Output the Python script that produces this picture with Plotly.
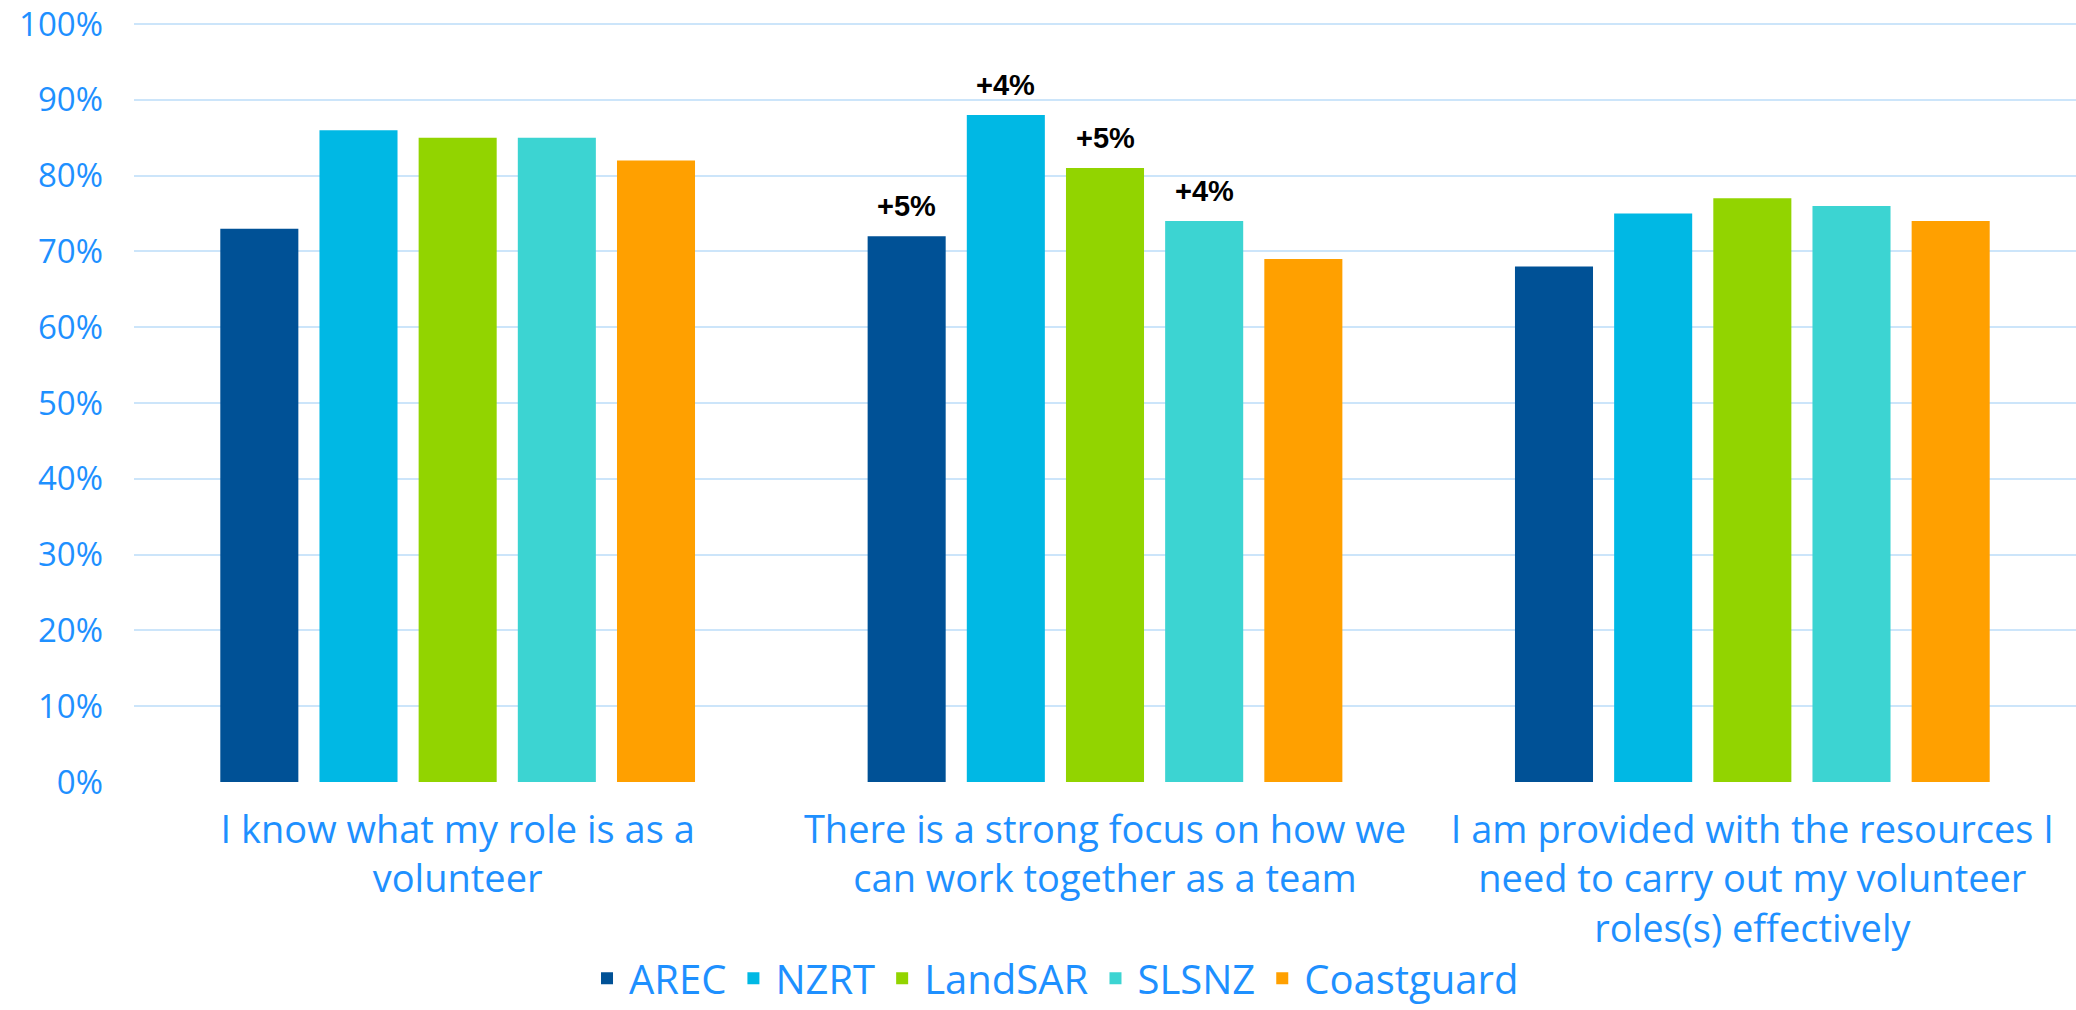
import plotly.graph_objects as go

# Survey statements (x categories) and agreement share per organisation (%)
categories = [
    "I know what my role is as a<br>volunteer",
    "There is a strong focus on how we<br>can work together as a team",
    "I am provided with the resources I<br>need to carry out my volunteer<br>roles(s) effectively",
]
organisations = ["AREC", "NZRT", "LandSAR", "SLSNZ", "Coastguard"]

arec = [73, 72, 68]
nzrt = [86, 88, 75]
landsar = [85, 81, 77]
slsnz = [85, 74, 76]
coastguard = [82, 69, 74]

# Change labels shown above selected bars
arec_change = ["", "+5%", ""]
nzrt_change = ["", "+4%", ""]
landsar_change = ["", "+5%", ""]
slsnz_change = ["", "+4%", ""]
coastguard_change = ["", "", ""]

y_ticks = list(range(0, 101, 10))
y_tick_labels = [f"{v}%" for v in y_ticks]

colors = ["#005196", "#00B8E4", "#92D400", "#3CD4D2", "#FFA000"]
series = [arec, nzrt, landsar, slsnz, coastguard]
changes = [arec_change, nzrt_change, landsar_change, slsnz_change, coastguard_change]

text_blue = "#1E90FF"
label_font = "Open Sans, sans-serif"

# Figure geometry and bar grouping
fig_w, fig_h = 2076, 1010
m_l, m_r, m_t, m_b = 134, 0, 21, 228
bargap, bargroupgap = 0.234, 0.213

fig = go.Figure()
for name, vals, col in zip(organisations, series, colors):
    fig.add_trace(go.Bar(
        name=name,
        x=categories,
        y=vals,
        marker=dict(color=col, line=dict(width=0)),
    ))

# Change labels above the bars: horizontal offset of each bar within its group
plot_w = fig_w - m_l - m_r
slot_px = plot_w / len(categories) * (1 - bargap) / len(organisations)
annotations = []
for i, (vals, txt) in enumerate(zip(series, changes)):
    offset = (i - (len(organisations) - 1) / 2) * slot_px
    for cat, v, t in zip(categories, vals, txt):
        if not t:
            continue
        annotations.append(dict(
            x=cat, y=v, xref="x", yref="y",
            text=f"<b>{t}</b>",
            showarrow=False,
            xshift=offset,
            yshift=12,
            yanchor="bottom",
            font=dict(family="Liberation Sans, Arial, sans-serif", size=29, color="#000000"),
        ))

fig.update_layout(
    width=fig_w,
    height=fig_h,
    barmode="group",
    bargap=bargap,
    bargroupgap=bargroupgap,
    plot_bgcolor="#FFFFFF",
    paper_bgcolor="#FFFFFF",
    margin=dict(l=m_l, r=m_r, t=m_t, b=m_b, autoexpand=False),
    font=dict(family=label_font, color=text_blue),
    annotations=annotations,
    showlegend=True,
    legend=dict(
        orientation="h",
        x=0.474,
        xanchor="center",
        y=-0.258,
        yanchor="middle",
        font=dict(size=40, color=text_blue, family=label_font),
        itemsizing="constant",
        itemwidth=34,
        traceorder="normal",
    ),
    xaxis=dict(
        tickfont=dict(size=38, color=text_blue, family=label_font),
        showgrid=False,
        showline=False,
        ticks="",
        automargin=False,
        ticklabelstandoff=22,
    ),
    yaxis=dict(
        range=[0, 100.4],
        tickvals=y_ticks,
        ticktext=y_tick_labels,
        tickfont=dict(size=33, color=text_blue, family=label_font),
        showgrid=True,
        gridcolor="#CCE5FA",
        gridwidth=2,
        zeroline=False,
        showline=False,
        ticks="",
        automargin=False,
        ticklabeloverflow="allow",
        ticklabelstandoff=30,
    ),
)

fig.write_html("out.html")
